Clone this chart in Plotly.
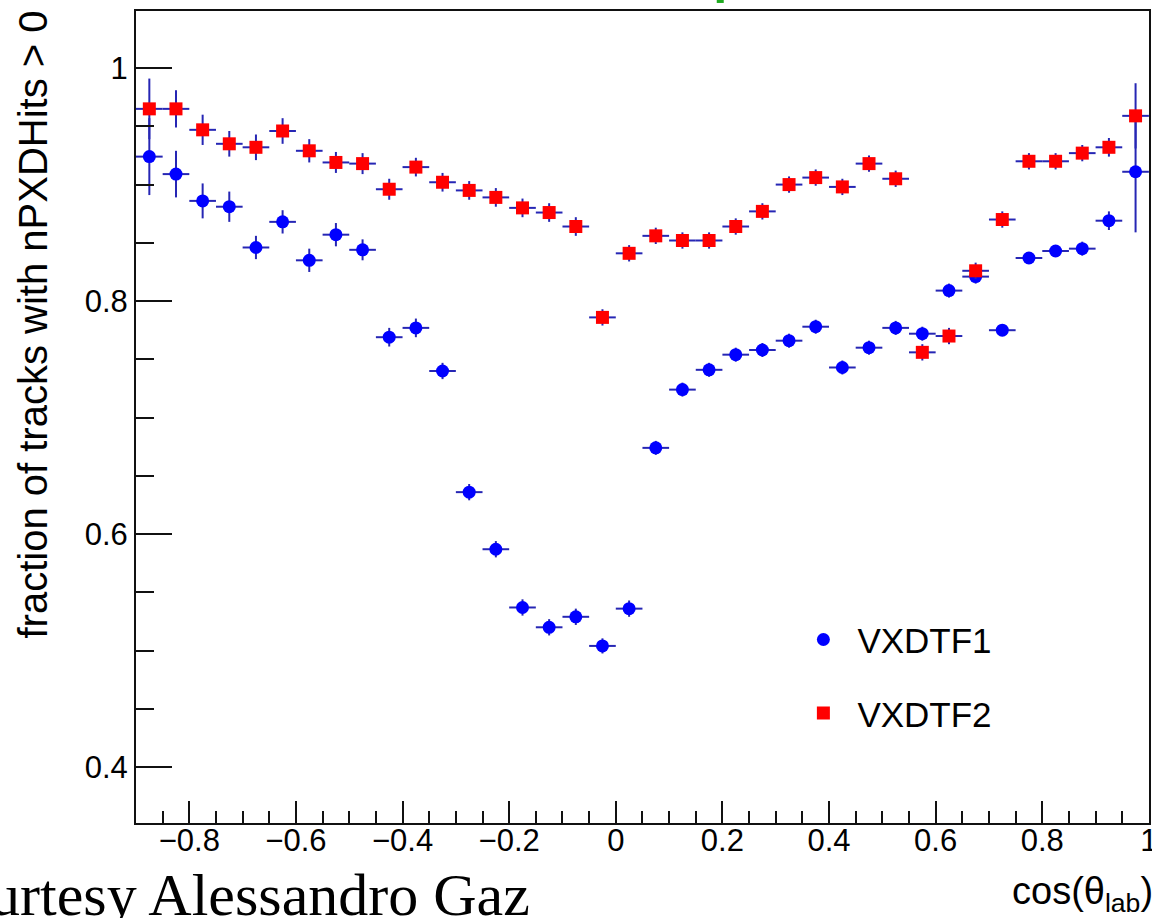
import plotly.graph_objects as go

# Bin centres of cos(theta_lab), bin width 0.05 from -0.9 to 1.0
cos_theta = [-0.875, -0.825, -0.775, -0.725, -0.675, -0.625, -0.575, -0.525,
             -0.475, -0.425, -0.375, -0.325, -0.275, -0.225, -0.175, -0.125,
             -0.075, -0.025, 0.025, 0.075, 0.125, 0.175, 0.225, 0.275,
             0.325, 0.375, 0.425, 0.475, 0.525, 0.575, 0.625, 0.675,
             0.725, 0.775, 0.825, 0.875, 0.925, 0.975]
bin_half_width = 0.025

# Fraction of tracks with nPXDHits > 0
vxdtf1 = [0.924, 0.909, 0.886, 0.881, 0.846, 0.868, 0.835, 0.857,
          0.844, 0.769, 0.777, 0.740, 0.636, 0.587, 0.537, 0.520,
          0.529, 0.504, 0.536, 0.674, 0.724, 0.741, 0.754, 0.758,
          0.766, 0.778, 0.743, 0.760, 0.777, 0.772, 0.809, 0.821,
          0.775, 0.837, 0.843, 0.845, 0.869, 0.911]
vxdtf1_err = [0.033, 0.020, 0.015, 0.013, 0.010, 0.010, 0.010, 0.010,
              0.009, 0.008, 0.008, 0.007, 0.007, 0.007, 0.007, 0.007,
              0.007, 0.0065, 0.007, 0.006, 0.006, 0.006, 0.006, 0.006,
              0.006, 0.006, 0.006, 0.006, 0.006, 0.006, 0.006, 0.006,
              0.005, 0.005, 0.005, 0.006, 0.008, 0.052]

vxdtf2 = [0.965, 0.965, 0.947, 0.935, 0.932, 0.946, 0.929, 0.919,
          0.918, 0.896, 0.915, 0.902, 0.895, 0.889, 0.880, 0.876,
          0.864, 0.786, 0.841, 0.856, 0.852, 0.852, 0.864, 0.877,
          0.900, 0.906, 0.898, 0.918, 0.905, 0.756, 0.770, 0.826,
          0.870, 0.920, 0.920, 0.927, 0.932, 0.959]
vxdtf2_err = [0.026, 0.016, 0.013, 0.011, 0.011, 0.011, 0.010, 0.009,
              0.009, 0.009, 0.008, 0.008, 0.008, 0.008, 0.008, 0.008,
              0.008, 0.007, 0.007, 0.007, 0.007, 0.007, 0.007, 0.007,
              0.007, 0.007, 0.007, 0.007, 0.007, 0.007, 0.007, 0.007,
              0.007, 0.007, 0.007, 0.007, 0.008, 0.028]

FONT = "Liberation Sans, Arial, Helvetica, sans-serif"
ERR_COLOR = "#2626b4"

fig = go.Figure()


def add_series(y, yerr, name, color, symbol, size, group):
    fig.add_trace(go.Scatter(
        x=cos_theta, y=y, mode="markers", name=name,
        legendgroup=group,
        marker=dict(color=color, symbol=symbol, size=size, line=dict(width=0)),
        error_x=dict(type="constant", value=bin_half_width, width=0,
                     thickness=2, color=ERR_COLOR),
        error_y=dict(type="data", array=yerr, width=0,
                     thickness=2, color=ERR_COLOR),
    ))


add_series(vxdtf1, vxdtf1_err, "VXDTF1", "#0000ff", "circle", 13, "g1")
add_series(vxdtf2, vxdtf2_err, "VXDTF2", "#ff0000", "square", 13, "g2")

axis_common = dict(
    showgrid=False, zeroline=False, showline=True, mirror=True,
    linecolor="#111111", linewidth=2,
    ticks="inside", tickwidth=2, tickcolor="#111111",
    tickfont=dict(family=FONT, size=31, color="black"),
    tick0=0, dtick=0.2, ticklabeloverflow="allow", automargin=False,
)

fig.update_xaxes(
    range=[-0.9, 1.0002], ticklen=22,
    minor=dict(ticks="inside", ticklen=12, dtick=0.05, tick0=0,
               tickwidth=2, tickcolor="#111111", showgrid=False),
    ticklabelstandoff=-11,
    **axis_common,
)
fig.update_yaxes(
    range=[0.352, 1.049], ticklen=36,
    minor=dict(ticks="inside", ticklen=18, dtick=0.05, tick0=0,
               tickwidth=2, tickcolor="#111111", showgrid=False),
    **axis_common,
)

annotations = [
    # y-axis title, aligned to the top end of the axis
    dict(text="fraction of tracks with nPXDHits > 0", textangle=-90,
         xref="paper", yref="paper", x=-0.1016, y=0.614,
         xanchor="center", yanchor="middle", showarrow=False,
         font=dict(family=FONT, size=40, color="black")),
    # x-axis title, aligned to the right end of the axis
    dict(text="cos(θ<sub>lab</sub>)",
         xref="paper", yref="paper", x=1.006, y=-0.088,
         xanchor="right", yanchor="middle", showarrow=False,
         font=dict(family=FONT, size=38, color="black")),
    dict(text="Courtesy Alessandro Gaz",
         xref="paper", yref="paper", x=0.3906, y=-0.0885,
         xanchor="right", yanchor="middle", showarrow=False,
         font=dict(family="Liberation Serif, Times New Roman, serif",
                   size=60, color="black")),
]

fig.update_layout(
    width=1152, height=918,
    margin=dict(l=136, r=3, t=11, b=95, autoexpand=False),
    paper_bgcolor="white", plot_bgcolor="white",
    font=dict(family=FONT, color="black"),
    showlegend=True,
    legend=dict(x=0.645, y=0.262, xanchor="left", yanchor="top",
                font=dict(family=FONT, size=35, color="black"),
                bgcolor="rgba(0,0,0,0)", borderwidth=0,
                itemwidth=58,
                traceorder="grouped", tracegroupgap=25),
    annotations=annotations,
    shapes=[dict(type="rect", xref="paper", yref="paper",
                 x0=0.5733, x1=0.5802, y0=1.0099, y1=1.0136,
                 line=dict(width=0), fillcolor="#1faa1f")],
)

fig.write_html("out.html")
